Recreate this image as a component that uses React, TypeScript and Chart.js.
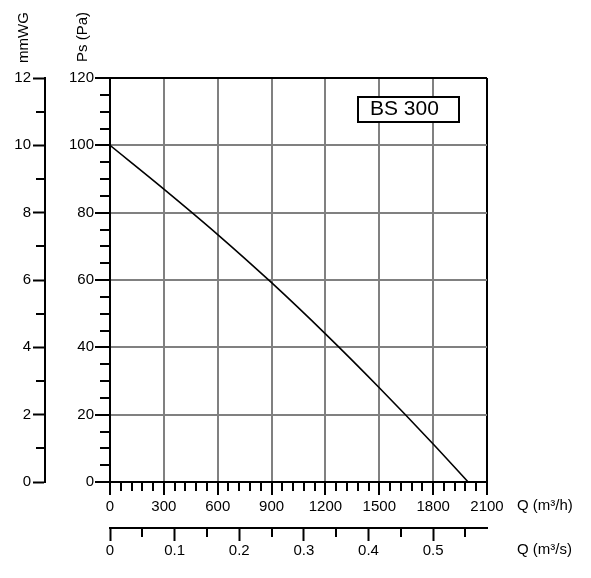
import React, { useEffect, useRef } from "react";
import { Chart, registerables } from "chart.js";

Chart.register(...registerables);

// ---- data ----
const flowM3h = [0, 300, 600, 900, 1200, 1500, 1800, 1995];
const staticPressurePa = [100, 87.0, 73.5, 59.2, 44.0, 28.0, 11.3, 0];

const flowTicksM3h = [0, 300, 600, 900, 1200, 1500, 1800, 2100];
const flowTicksM3s = [0, 0.1, 0.2, 0.3, 0.4, 0.5];
const flowTickLabelsM3s = ["0", "0.1", "0.2", "0.3", "0.4", "0.5"];
const pressureTicksPa = [0, 20, 40, 60, 80, 100, 120];
const pressureTicksMmWG = [0, 2, 4, 6, 8, 10, 12];

const minorFlowStepM3h = 60;
const minorFlowStepM3s = 0.05;
const minorPressureStepPa = 5;
const minorPressureStepMmWG = 1;

const modelLabel = "BS 300";
const titleMmWG = "mmWG";
const titlePa = "Ps (Pa)";
const titleFlowM3h = "Q (m³/h)";
const titleFlowM3s = "Q (m³/s)";

const FLOW_MAX_M3H = 2100;
const PA_MAX = 120;
const MMWG_MAX = 12;

const FONT = "'Liberation Sans', Arial, Helvetica, sans-serif";
const FONT_SIZE = 15;
const GRID_GREY = "#808080";

const decorPlugin = {
  id: "decor",
  afterDraw(chart: any) {
    const { ctx, scales } = chart;
    const x = scales.x;
    const y = scales.y;
    const x2 = scales.x2;
    const y2 = scales.y2;
    ctx.save();
    ctx.strokeStyle = "#000";
    ctx.lineWidth = 2;
    ctx.lineCap = "butt";
    ctx.beginPath();
    // minor ticks on Q (m3/h)
    for (let i = 1; i * minorFlowStepM3h < FLOW_MAX_M3H; i++) {
      if (i % 5 === 0) continue;
      const px = Math.round(x.getPixelForValue(i * minorFlowStepM3h));
      ctx.moveTo(px, x.top);
      ctx.lineTo(px, x.top + 9);
    }
    // minor ticks on Q (m3/s)
    for (let i = 1; i * minorFlowStepM3s < FLOW_MAX_M3H / 3600; i += 2) {
      const px = Math.round(x2.getPixelForValue(i * minorFlowStepM3s));
      ctx.moveTo(px, x2.top);
      ctx.lineTo(px, x2.top + 9);
    }
    // minor ticks on Pa
    for (let i = 1; i * minorPressureStepPa < PA_MAX; i++) {
      if (i % 4 === 0) continue;
      const py = Math.round(y.getPixelForValue(i * minorPressureStepPa));
      ctx.moveTo(y.right - 10, py);
      ctx.lineTo(y.right, py);
    }
    // minor ticks on mmWG
    for (let i = 1; i * minorPressureStepMmWG < MMWG_MAX; i += 2) {
      const py = Math.round(y2.getPixelForValue(i * minorPressureStepMmWG));
      ctx.moveTo(y2.right - 9, py);
      ctx.lineTo(y2.right, py);
    }
    ctx.stroke();

    // axis titles
    ctx.fillStyle = "#000";
    ctx.font = `${FONT_SIZE}px ${FONT}`;
    ctx.textAlign = "left";
    ctx.textBaseline = "alphabetic";
    ctx.save();
    ctx.translate(28, 63);
    ctx.rotate(-Math.PI / 2);
    ctx.fillText(titleMmWG, 0, 0);
    ctx.restore();
    ctx.save();
    ctx.translate(87, 62);
    ctx.rotate(-Math.PI / 2);
    ctx.fillText(titlePa, 0, 0);
    ctx.restore();
    ctx.fillText(titleFlowM3h, x.right + 30, x.top + 28);
    ctx.fillText(titleFlowM3s, x.right + 30, x2.top + 26);

    // model label box
    const bx = 358, by = 97, bw = 101, bh = 25;
    ctx.fillStyle = "#fff";
    ctx.fillRect(bx, by, bw, bh);
    ctx.lineWidth = 2;
    ctx.strokeRect(bx, by, bw, bh);
    ctx.fillStyle = "#000";
    ctx.font = `21px ${FONT}`;
    ctx.fillText(modelLabel, bx + 12, by + 18);
    ctx.restore();
  },
};

export default function App() {
  const canvasRef = useRef<HTMLCanvasElement | null>(null);

  useEffect(() => {
    if (!canvasRef.current) return;
    Chart.defaults.font.family = FONT;
    Chart.defaults.font.size = FONT_SIZE;
    Chart.defaults.color = "#000";

    const edgeOrGrey = (edges: number[]) => (ctx: any) =>
      edges.includes(ctx.tick?.value) ? "#000" : GRID_GREY;

    const chart = new Chart(canvasRef.current, {
      type: "line",
      data: {
        datasets: [
          {
            data: flowM3h.map((q, i) => ({ x: q, y: staticPressurePa[i] })),
            borderColor: "#000",
            borderWidth: 1.6,
            pointRadius: 0,
            fill: false,
            cubicInterpolationMode: "monotone",
            xAxisID: "x",
            yAxisID: "y",
          },
        ],
      },
      options: {
        responsive: false,
        animation: false,
        events: [],
        layout: { padding: { top: 78, right: 104, bottom: 10, left: 0 } },
        plugins: { legend: { display: false }, tooltip: { enabled: false } },
        scales: {
          x: {
            type: "linear",
            position: "bottom",
            weight: 0,
            min: 0,
            max: FLOW_MAX_M3H,
            afterBuildTicks: (axis: any) => {
              axis.ticks = flowTicksM3h.map((v) => ({ value: v }));
            },
            afterFit: (s: any) => {
              s.height = 46;
            },
            ticks: {
              autoSkip: false,
              maxRotation: 0,
              padding: 3,
              callback: (v: any) => String(v),
            },
            grid: {
              color: edgeOrGrey([0, FLOW_MAX_M3H]),
              lineWidth: 2,
              tickColor: "#000",
              tickWidth: 2,
              tickLength: 13,
            },
            border: { display: true, color: "#000", width: 2 },
          },
          x2: {
            type: "linear",
            position: "bottom",
            weight: 1,
            min: 0,
            max: FLOW_MAX_M3H / 3600,
            afterBuildTicks: (axis: any) => {
              axis.ticks = flowTicksM3s.map((v) => ({ value: v }));
            },
            afterFit: (s: any) => {
              s.height = 40;
            },
            ticks: {
              autoSkip: false,
              maxRotation: 0,
              padding: 1,
              callback: (_v: any, i: number) => flowTickLabelsM3s[i],
            },
            grid: {
              drawOnChartArea: false,
              color: "#000",
              tickColor: "#000",
              tickWidth: 2,
              tickLength: 13,
            },
            border: { display: true, color: "#000", width: 2 },
          },
          y: {
            type: "linear",
            position: "left",
            weight: 0,
            min: 0,
            max: PA_MAX,
            afterBuildTicks: (axis: any) => {
              axis.ticks = pressureTicksPa.map((v) => ({ value: v }));
            },
            afterFit: (s: any) => {
              s.width = 65;
            },
            ticks: {
              autoSkip: false,
              padding: 1,
              callback: (v: any) => String(v),
            },
            grid: {
              color: edgeOrGrey([0, PA_MAX]),
              lineWidth: 2,
              tickColor: "#000",
              tickWidth: 2,
              tickLength: 15,
            },
            border: { display: true, color: "#000", width: 2 },
          },
          y2: {
            type: "linear",
            position: "left",
            weight: 1,
            min: 0,
            max: MMWG_MAX,
            afterBuildTicks: (axis: any) => {
              axis.ticks = pressureTicksMmWG.map((v) => ({ value: v }));
            },
            afterFit: (s: any) => {
              s.width = 45;
            },
            ticks: {
              autoSkip: false,
              padding: 2,
              callback: (v: any) => String(v),
            },
            grid: {
              drawOnChartArea: false,
              color: "#000",
              tickColor: "#000",
              tickWidth: 2,
              tickLength: 12,
            },
            border: { display: true, color: "#000", width: 2 },
          },
        },
      } as any,
      plugins: [decorPlugin],
    });
    return () => chart.destroy();
  }, []);

  return (
    <div style={{ position: "fixed", left: 0, top: 0, width: 591, height: 578, background: "#fff" }}>
      <canvas ref={canvasRef} width={591} height={578} style={{ display: "block" }} />
    </div>
  );
}
